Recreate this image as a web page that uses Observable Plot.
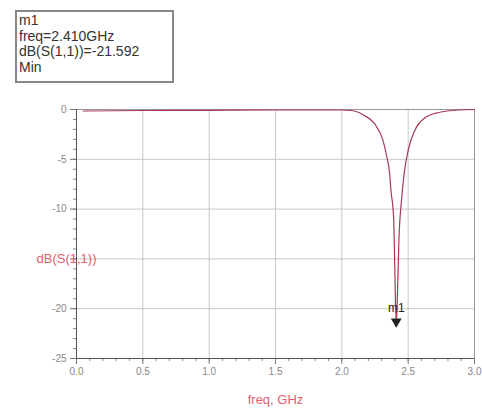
<!DOCTYPE html>
<html>
<head>
<meta charset="utf-8">
<script src="https://cdn.jsdelivr.net/npm/d3@7"></script>
<script src="https://cdn.jsdelivr.net/npm/@observablehq/plot@0.6"></script>
<style>
  body { margin: 0; background: #fff; font-family: "Liberation Sans", Arial, sans-serif; }
  #wrap { position: relative; width: 482px; height: 412px; }
  #marker { position: absolute; left: 15px; top: 10px; width: 153px; height: 68px;
            border: 2px solid #888; padding: 1px 0 0 2px; font-size: 14px; line-height: 15.5px; color: #333; background: #fff; }
  svg { position: absolute; left: 0; top: 0; }
</style>
</head>
<body>
<div id="wrap">
  <div id="marker">m1<br>freq=2.410GHz<br>dB(S(1,1))=-21.592<br>Min</div>
</div>
<script>
const freq = [0.05, 0.5, 1.0, 1.5, 2.0, 2.07, 2.17, 2.245, 2.31, 2.34, 2.36, 2.37, 2.39, 2.395, 2.40, 2.41, 2.42, 2.43, 2.45, 2.47, 2.50, 2.55, 2.62, 2.73, 2.88, 3.0];
const db   = [-0.15, -0.1, -0.08, -0.05, -0.05, -0.1, -0.6, -1.4, -3.1, -4.8, -6.4, -8.1, -10.8, -13.2, -16.5, -21.592, -18.2, -13.2, -9.1, -6.4, -4.1, -2.1, -0.9, -0.3, -0.05, 0];
const xTickValues = [0, 0.5, 1.0, 1.5, 2.0, 2.5, 3.0];
const xTickLabels = ["0.0", "0.5", "1.0", "1.5", "2.0", "2.5", "3.0"];
const yTickValues = [0, -5, -10, -20, -25];
const yTickLabels = ["0", "-5", "-10", "-20", "-25"];
const yMajor = [0, -5, -10, -15, -20, -25];
const xMinor = d3.range(0, 30.01, 1).map(v => v / 10);
const yMinor = d3.range(-25, 0.01, 1);
const markerName = "m1";
const markerFreq = 2.41;
const markerDb = -21.592;
const yLabel = "dB(S(1,1))";
const xLabel = "freq, GHz";

const data = freq.map((f, i) => ({f, d: db[i]}));

const chart = Plot.plot({
  width: 482,
  height: 412,
  marginLeft: 76,
  marginRight: 8,
  marginTop: 109,
  marginBottom: 54,
  style: {fontFamily: "Liberation Sans, Arial, sans-serif", fontSize: "10px", background: "transparent"},
  x: {domain: [0, 3]},
  y: {domain: [-25, 0]},
  marks: [
    Plot.gridX(xTickValues, {stroke: "#c8c8c8", strokeOpacity: 1}),
    Plot.gridY(yMajor, {stroke: "#c8c8c8", strokeOpacity: 1}),
    Plot.frame({stroke: "#999"}),
    Plot.axisX({ticks: xMinor, tickSize: 3, tickFormat: () => "", stroke: "#888", label: null}),
    Plot.axisX({ticks: xTickValues, tickSize: 6, tickPadding: 3, tickFormat: (d) => xTickLabels[xTickValues.indexOf(d)], stroke: "#777", fill: "#888", label: null}),
    Plot.axisY({ticks: yMinor, tickSize: 3, tickFormat: () => "", stroke: "#888", label: null}),
    Plot.axisY({ticks: yMajor, tickSize: 6, tickPadding: 4, tickFormat: (d) => { const i = yTickValues.indexOf(d); return i < 0 ? "" : yTickLabels[i]; }, stroke: "#777", fill: "#888", label: null}),
    Plot.ruleX([0], {stroke: "#555"}),
    Plot.ruleY([-25], {stroke: "#555"}),
    Plot.line(data, {x: "f", y: "d", stroke: "#a83a52", strokeWidth: 1.2, curve: "monotone-x"}),
    Plot.dot([{f: markerFreq, d: markerDb}], {x: "f", y: "d", symbol: "triangle", r: 4, rotate: 180, fill: "#222", stroke: "none", dy: -3}),
    Plot.text([{f: markerFreq, d: markerDb}], {x: "f", y: "d", text: () => markerName, dy: -16, fontSize: 12, fill: "#222"}),
    Plot.text([{x: 0, y: -15}], {x: "x", y: "y", text: () => yLabel, dx: -10, fontSize: 13, fill: "#e0606e", textAnchor: "middle"}),
    Plot.text([{x: 1.5}], {x: "x", frameAnchor: "bottom", text: () => xLabel, dy: 45, fontSize: 13, fill: "#e0606e"})
  ]
});
document.getElementById("wrap").prepend(chart);
</script>
</body>
</html>
